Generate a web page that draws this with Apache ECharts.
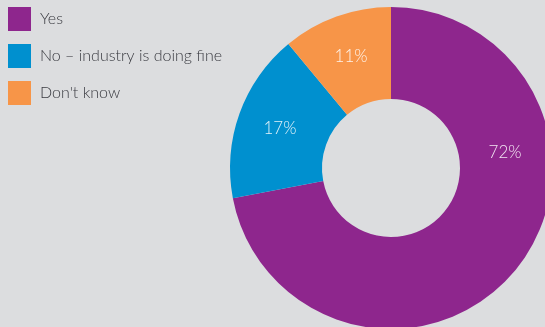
<!DOCTYPE html>
<html>
<head>
<meta charset="utf-8">
<script src="https://cdn.jsdelivr.net/npm/echarts@6/dist/echarts.min.js"></script>
<style>
  html, body { margin: 0; padding: 0; background: #dcdddf; }
  #chart { width: 545px; height: 327px; }
</style>
</head>
<body>
<div id="chart"></div>
<script>
// Survey answers and their shares (percent)
const categories = ['Yes', 'No \u2013 industry is doing fine', "Don't know"];
const shares = [72, 17, 11];
const colors = ['#8e268d', '#0090cf', '#f79548'];

const CX = 391, CY = 168, R0 = 69, R1 = 161;
const MID = (R0 + R1) / 2;

const chart = echarts.init(document.getElementById('chart'), null, { renderer: 'canvas' });

chart.setOption({
  backgroundColor: '#dcdddf',
  animation: false,
  legend: {
    orient: 'vertical',
    left: 8,
    top: 7,
    padding: 0,
    itemWidth: 23,
    itemHeight: 24,
    itemGap: 13,
    icon: 'rect',
    selectedMode: false,
    textStyle: { fontFamily: 'Lato', fontWeight: 300, fontSize: 16, color: '#393a40', padding: [0, 0, 0, 4] },
    data: categories
  },
  series: [{
    type: 'pie',
    center: [CX, CY],
    radius: [R0, R1],
    startAngle: 90,
    clockwise: true,
    silent: true,
    label: {
      show: true,
      position: 'inside',
      formatter: p => p.value + '%',
      color: 'rgba(255,255,255,0.88)',
      fontFamily: 'Lato',
      fontWeight: 300,
      fontSize: 17
    },
    labelLine: { show: false },
    // the large slice's label sits just above the horizontal on the ring
    labelLayout: function (params) {
      if (params.dataIndex !== 0) return {};
      const a = 7.5 * Math.PI / 180;
      return { x: CX + MID * Math.cos(a), y: CY - MID * Math.sin(a), align: 'center', verticalAlign: 'middle' };
    },
    data: categories.map((name, i) => ({ name, value: shares[i], itemStyle: { color: colors[i] } }))
  }]
});
</script>
</body>
</html>
